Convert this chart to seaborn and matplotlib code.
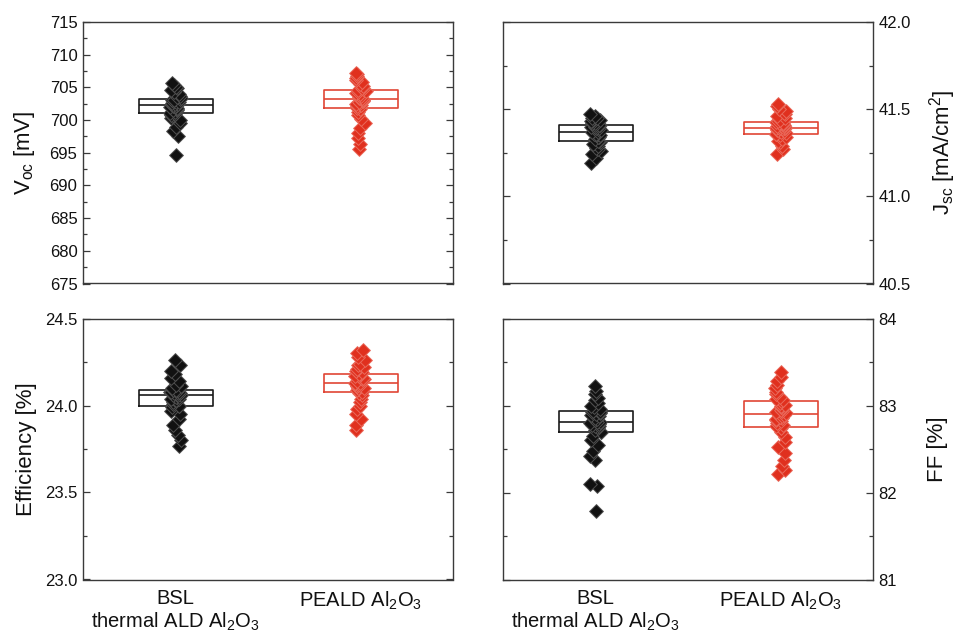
import numpy as np
import pandas as pd
import matplotlib
matplotlib.use("Agg")
import matplotlib.pyplot as plt
import seaborn as sns
from matplotlib.ticker import MultipleLocator, FormatStrFormatter

# ---------------- data ----------------
groups = ["BSL", "PEALD"]
group_labels = ["BSL\nthermal ALD Al$_2$O$_3$", "PEALD Al$_2$O$_3$"]

voc_bsl = [694.7, 697.6, 698.3, 699.0, 699.6, 700.0, 700.3, 700.6, 700.8, 701.0,
           701.1, 701.3, 701.5, 701.6, 701.7, 701.9, 702.0, 702.1, 702.2, 702.2,
           702.3, 702.4, 702.5, 702.6, 702.7, 702.8, 702.9, 703.0, 703.1, 703.2,
           703.3, 703.5, 703.7, 704.0, 704.3, 704.6, 704.9, 705.1, 705.3, 705.6]
voc_peald = [695.5, 696.3, 697.2, 698.0, 698.8, 699.5, 700.2, 700.8, 701.3, 701.7,
             701.9, 702.1, 702.3, 702.5, 702.6, 702.8, 702.9, 703.0, 703.1, 703.2,
             703.3, 703.4, 703.6, 703.7, 703.9, 704.0, 704.2, 704.3, 704.5, 704.6,
             704.7, 704.9, 705.2, 705.5, 705.8, 706.1, 706.4, 706.7, 707.0, 707.2]

jsc_bsl = [41.19, 41.22, 41.24, 41.26, 41.27, 41.28, 41.29, 41.30, 41.31, 41.32,
           41.32, 41.33, 41.34, 41.34, 41.35, 41.35, 41.36, 41.36, 41.36, 41.37,
           41.37, 41.37, 41.38, 41.38, 41.39, 41.39, 41.40, 41.40, 41.41, 41.41,
           41.41, 41.42, 41.42, 41.43, 41.43, 41.44, 41.45, 41.45, 41.46, 41.47]
jsc_peald = [41.24, 41.27, 41.29, 41.31, 41.32, 41.33, 41.34, 41.35, 41.355, 41.36,
             41.36, 41.365, 41.37, 41.375, 41.38, 41.38, 41.385, 41.39, 41.39, 41.39,
             41.395, 41.40, 41.40, 41.405, 41.41, 41.41, 41.415, 41.42, 41.42, 41.425,
             41.43, 41.44, 41.45, 41.46, 41.47, 41.48, 41.49, 41.50, 41.52, 41.53]

eff_bsl = [23.77, 23.80, 23.83, 23.86, 23.89, 23.92, 23.95, 23.97, 23.99, 24.00,
           24.00, 24.01, 24.02, 24.03, 24.03, 24.04, 24.04, 24.05, 24.05, 24.06,
           24.06, 24.06, 24.07, 24.07, 24.07, 24.08, 24.08, 24.08, 24.09, 24.09,
           24.09, 24.10, 24.11, 24.12, 24.14, 24.16, 24.18, 24.20, 24.23, 24.26]
eff_peald = [23.86, 23.89, 23.92, 23.95, 23.98, 24.00, 24.02, 24.04, 24.06, 24.07,
             24.08, 24.09, 24.10, 24.10, 24.11, 24.11, 24.12, 24.12, 24.13, 24.13,
             24.13, 24.14, 24.15, 24.15, 24.16, 24.16, 24.17, 24.17, 24.18, 24.18,
             24.19, 24.20, 24.21, 24.22, 24.23, 24.24, 24.26, 24.28, 24.30, 24.32]

ff_bsl = [81.79, 82.08, 82.10, 82.37, 82.42, 82.48, 82.55, 82.60, 82.65, 82.69,
          82.70, 82.72, 82.74, 82.75, 82.76, 82.77, 82.78, 82.79, 82.80, 82.81,
          82.81, 82.83, 82.85, 82.86, 82.88, 82.89, 82.90, 82.91, 82.92, 82.93,
          82.94, 82.96, 82.98, 83.00, 83.03, 83.06, 83.09, 83.13, 83.17, 83.22]
ff_peald = [82.21, 82.26, 82.31, 82.37, 82.45, 82.52, 82.58, 82.64, 82.70, 82.74,
            82.76, 82.78, 82.80, 82.82, 82.83, 82.85, 82.86, 82.87, 82.88, 82.89,
            82.91, 82.92, 82.94, 82.95, 82.97, 82.98, 83.00, 83.01, 83.03, 83.05,
            83.06, 83.08, 83.10, 83.13, 83.16, 83.20, 83.24, 83.28, 83.33, 83.39]

# ---------------- style ----------------
sns.set_style("white")
plt.rcParams["font.family"] = ["Liberation Sans", "DejaVu Sans"]
plt.rcParams["mathtext.fontset"] = "custom"
plt.rcParams["mathtext.rm"] = "Liberation Sans"
plt.rcParams["mathtext.it"] = "Liberation Sans:italic"
plt.rcParams["mathtext.bf"] = "Liberation Sans:bold"
plt.rcParams["mathtext.default"] = "regular"

spine_col = "#3a3a3a"
box_colors = {"BSL": "#1a1a1a", "PEALD": "#e04535"}
face_colors = {"BSL": "#111111", "PEALD": "#e0301e"}
edge_colors = {"BSL": "#505050", "PEALD": "#ea6a5c"}

np.random.seed(3)

fig = plt.figure(figsize=(9.59, 6.41), dpi=100)
W, H = 959, 641
def rect(l, t, r, b):
    return [l / W, 1 - b / H, (r - l) / W, (b - t) / H]

axes_spec = [
    ((voc_bsl, voc_peald), rect(83, 22, 453, 283.5), (675, 715), 5, 2.5, "%d",
     "V$_{oc}$ [mV]", False, False),
    ((jsc_bsl, jsc_peald), rect(503, 22, 873, 283.5), (40.5, 42.0), 0.5, 0.25, "%.1f",
     "J$_{sc}$ [mA/cm$^2$]", True, False),
    ((eff_bsl, eff_peald), rect(83, 318.5, 453, 579.5), (23.0, 24.5), 0.5, 0.25, "%.1f",
     "Efficiency [%]", False, True),
    ((ff_bsl, ff_peald), rect(503, 318.5, 873, 579.5), (81, 84), 1, 0.5, "%d",
     "FF [%]", True, True),
]

for (vals, r, ylim, maj, mnr, fmt, ylab, right, bottom) in axes_spec:
    ax = fig.add_axes(r)
    df = pd.DataFrame({
        "group": [groups[0]] * len(vals[0]) + [groups[1]] * len(vals[1]),
        "value": list(vals[0]) + list(vals[1]),
    })
    sns.boxplot(data=df, x="group", y="value", hue="group", order=groups,
                hue_order=groups, palette=box_colors, fill=False, width=0.4,
                whis=0, showfliers=False, showcaps=False,
                whiskerprops={"visible": False}, linewidth=1.2,
                legend=False, ax=ax, zorder=1)
    for g in groups:
        sub = df[df["group"] == g]
        sns.stripplot(data=sub, x="group", y="value", order=groups,
                      color=face_colors[g], edgecolor=edge_colors[g],
                      linewidth=0.7, marker="D", size=7, jitter=0.03,
                      ax=ax, zorder=3)
    ax.set_xlim(-0.5, 1.5)
    ax.set_ylim(*ylim)
    ax.yaxis.set_major_locator(MultipleLocator(maj))
    ax.yaxis.set_minor_locator(MultipleLocator(mnr))
    ax.yaxis.set_major_formatter(FormatStrFormatter(fmt))
    ax.tick_params(axis="y", which="both", direction="in", left=True, right=True,
                   colors=spine_col, labelcolor="#111111", labelsize=12, width=0.9)
    ax.tick_params(axis="y", which="major", length=5, pad=4)
    ax.tick_params(axis="y", which="minor", length=3)
    ax.tick_params(axis="x", length=0, labelsize=14.5, labelcolor="#111111", pad=7)
    ax.set_xlabel("")
    ax.set_xticks([0, 1])
    if bottom:
        ax.set_xticklabels(group_labels, va="top", ha="center",
                           multialignment="center", linespacing=1.15)
    else:
        ax.set_xticklabels(["", ""])
    for s in ax.spines.values():
        s.set_visible(True)
        s.set_color(spine_col)
        s.set_linewidth(1.0)
    ax.set_ylabel(ylab, fontsize=16, color="#111111")
    if right:
        ax.tick_params(axis="y", labelleft=False, labelright=True)
        ax.yaxis.set_label_position("right")
        ax.yaxis.set_label_coords(1.145, 0.5)
    else:
        ax.yaxis.set_label_coords(-0.125, 0.5)

fig.savefig("out.png", dpi=100)
